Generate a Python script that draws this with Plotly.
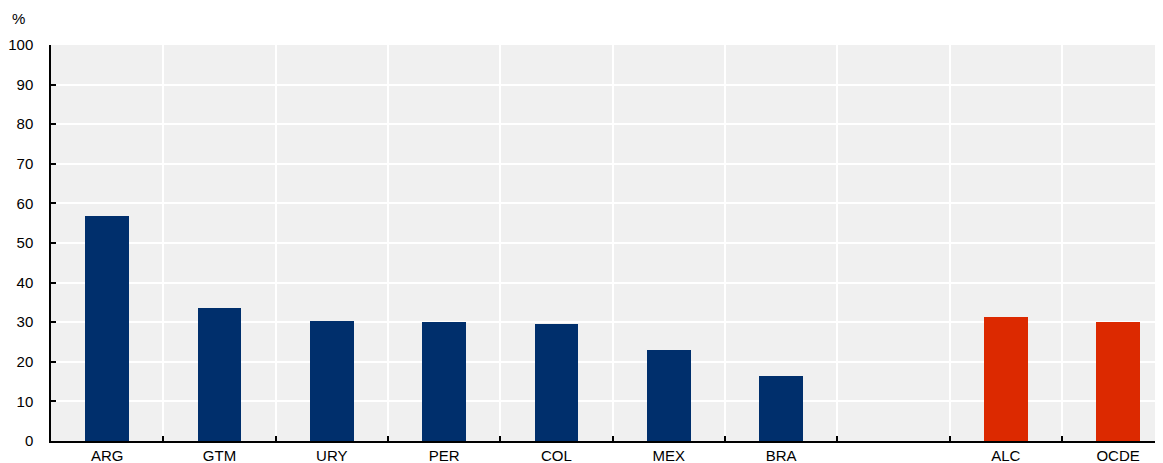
import plotly.graph_objects as go

categories = ["ARG", "GTM", "URY", "PER", "COL", "MEX", "BRA", "", "ALC", "OCDE"]
values = [56.8, 33.6, 30.3, 30.1, 29.5, 23.0, 16.4, None, 31.3, 30.1]
bar_colors = ["#002F6C"] * 8 + ["#DC2900", "#DC2900"]
y_ticks = list(range(0, 101, 10))

x_pos = list(range(len(categories)))

fig = go.Figure()
fig.add_trace(go.Bar(
    x=x_pos, y=values, width=0.39,
    marker=dict(color=bar_colors, line=dict(width=0)),
    showlegend=False, hoverinfo="skip",
))

font = dict(family="Liberation Sans, Arial, sans-serif", size=15, color="#000000")

# page body has an 8px default margin; compensate
OFF = 8
W, H = 1163 - OFF, 463 - OFF
L, T, B = 51 - OFF, 45 - OFF, 22
PW, PH = W - L, H - T - B

fig.update_layout(
    width=W, height=H,
    margin=dict(l=L, r=0, t=T, b=B, autoexpand=False),
    paper_bgcolor="white",
    plot_bgcolor="#F0F0F0",
    font=font,
    bargap=0,
    xaxis=dict(
        range=[-0.5, 9.4], automargin=False,
        tickmode="array", tickvals=x_pos, ticktext=categories,
        ticks="", showgrid=False, zeroline=False,
        showline=True, linecolor="black", linewidth=1.5,
        ticklabelstandoff=0,
        minor=dict(tickmode="array", tickvals=[i + 0.5 for i in range(10)],
                   ticks="inside", ticklen=5, tickcolor="black", tickwidth=1.5,
                   showgrid=True, gridcolor="white", gridwidth=1.5),
        tickfont=font,
    ),
    yaxis=dict(
        range=[0, 100], tickvals=y_ticks, automargin=False,
        ticks="inside", ticklen=5, tickcolor="black", tickwidth=1.5,
        showgrid=True, gridcolor="white", gridwidth=1.5,
        zeroline=False, showline=True, linecolor="black", linewidth=1.5,
        ticklabelstandoff=13,
        tickfont=font,
    ),
    annotations=[dict(text="%", xref="paper", yref="paper",
                      x=-(L - (18 - OFF)) / PW, y=(H - B - (18 - OFF)) / PH,
                      xanchor="center", yanchor="middle",
                      showarrow=False, font=font)],
)

fig.write_html("out.html")
